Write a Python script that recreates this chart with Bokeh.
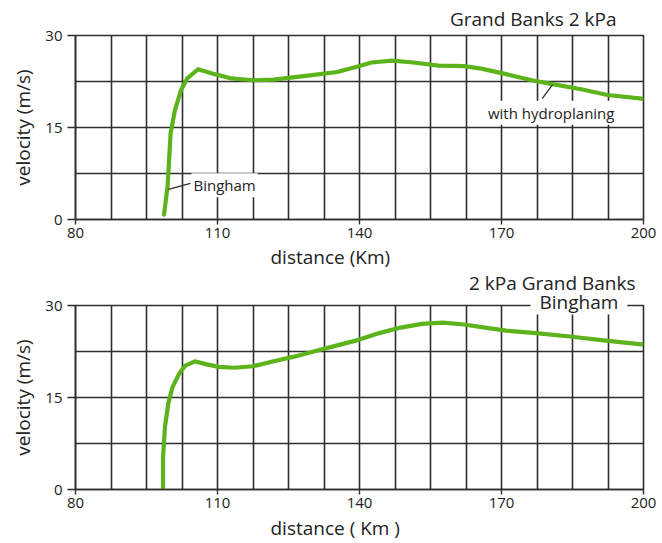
from bokeh.plotting import figure
from bokeh.layouts import column
from bokeh.models import Range1d, FixedTicker, Label, Title
from bokeh.embed import file_html
from bokeh.resources import INLINE

# ---- data ----
distance_top = [98.7, 99.45, 100.1, 101.0, 102.3, 103.6, 105.9, 109.4, 113.0, 117.5,
                121.9, 126.4, 131.7, 135.3, 139.8, 142.5, 146.9, 151.4, 156.7, 162.1,
                165.7, 171.0, 176.4, 179.9, 187.1, 192.4, 199.6]
velocity_top = [0.8, 5.4, 14.1, 17.8, 21.1, 23.0, 24.5, 23.7, 23.0, 22.7,
                22.8, 23.2, 23.7, 24.05, 25.0, 25.6, 25.9, 25.6, 25.1, 25.0,
                24.6, 23.7, 22.7, 22.2, 21.2, 20.3, 19.7]

distance_bottom = [98.5, 98.5, 98.9, 99.6, 100.5, 101.9, 103.2, 105.2, 107.7, 110.3,
                   113.5, 117.5, 121.9, 126.4, 131.7, 135.3, 139.8, 144.2, 148.7, 153.2,
                   157.6, 162.1, 166.5, 171.0, 177.3, 184.4, 191.6, 199.6]
velocity_bottom = [0.0, 5.3, 10.2, 14.0, 16.7, 18.9, 20.2, 20.9, 20.4, 20.0,
                   19.85, 20.1, 20.9, 21.7, 22.8, 23.5, 24.4, 25.5, 26.4, 27.0,
                   27.2, 26.9, 26.4, 25.9, 25.5, 24.95, 24.3, 23.65]

x_ticks = [80, 110, 140, 170, 200]
y_ticks = [0, 15, 30]
x_grid = [80 + 7.5 * i for i in range(17)]
y_grid = [0, 7.5, 15, 22.5, 30]

GREEN = "#5cb31c"
DARK = "#2e2e2e"
TEXT = "#222222"
FONT = "Open Sans"


def make_title(text, size, align, offset, standoff, valign="bottom", bg=None, pad=None):
    t = Title(text=text, align=align, offset=offset, standoff=standoff,
              vertical_align=valign, text_font=FONT, text_font_size=size,
              text_font_style="normal", text_color=TEXT)
    if bg is not None:
        t.background_fill_color = bg
    if pad is not None:
        t.padding = pad
    return t


def make_panel(xs, ys, height, btop, bbottom):
    p = figure(width=662, height=height, output_backend="svg", toolbar_location=None,
               x_range=Range1d(80, 200), y_range=Range1d(0, 30),
               min_border_left=75, min_border_right=19,
               min_border_top=btop, min_border_bottom=bbottom)
    p.background_fill_color = "white"
    p.border_fill_color = "white"
    p.outline_line_color = DARK
    p.outline_line_width = 1.6

    p.xaxis.ticker = FixedTicker(ticks=x_ticks)
    p.yaxis.ticker = FixedTicker(ticks=y_ticks)
    p.xgrid.ticker = FixedTicker(ticks=x_grid)
    p.ygrid.ticker = FixedTicker(ticks=y_grid)
    for g in (p.xgrid, p.ygrid):
        g.grid_line_color = DARK
        g.grid_line_width = 1.6
        g.grid_line_alpha = 1.0
    for ax in (p.xaxis, p.yaxis):
        ax.axis_line_color = DARK
        ax.axis_line_width = 1.6
        ax.major_tick_line_color = DARK
        ax.major_tick_line_width = 1.4
        ax.major_tick_in = 0
        ax.minor_tick_line_color = None
        ax.major_label_text_font = FONT
        ax.major_label_text_font_size = "15px"
        ax.major_label_text_color = TEXT
    p.xaxis.major_tick_out = 5
    p.xaxis.major_label_standoff = 3
    p.yaxis.major_tick_out = 8
    p.yaxis.major_label_standoff = 5

    p.yaxis.axis_label = "velocity (m/s)"
    p.yaxis.axis_label_text_font = FONT
    p.yaxis.axis_label_text_font_size = "19px"
    p.yaxis.axis_label_text_font_style = "normal"
    p.yaxis.axis_label_text_color = TEXT
    p.yaxis.axis_label_standoff = 6

    p.line(xs, ys, line_color=GREEN, line_width=4.2, line_join="round", line_cap="round")
    return p


p1 = make_panel(distance_top, velocity_top, 271, 35, 52)
p2 = make_panel(distance_bottom, velocity_bottom, 272, 34, 54)

# ---- top panel texts ----
p1.add_layout(make_title("Grand Banks 2 kPa", "19px", "right", 27, 7), "above")
p1.add_layout(make_title("distance (Km)", "19px", "left", 195, 3, valign="bottom"), "below")
p1.segment(x0=[99.65], y0=[4.9], x1=[104.3], y1=[5.9], line_color=DARK, line_width=1.3)
p1.add_layout(Label(x=104.5, y=5.6, text="Bingham", text_align="left",
                    text_baseline="middle", text_font=FONT, text_font_size="15px",
                    text_color=TEXT, background_fill_color="white", padding=2))
p1.segment(x0=[178.6], y0=[19.7], x1=[180.8], y1=[22.0], line_color=DARK, line_width=1.3)
p1.add_layout(Label(x=180.5, y=17.4, text="with hydroplaning", text_align="center",
                    text_baseline="middle", text_font=FONT, text_font_size="15px",
                    text_color=TEXT, background_fill_color="white", padding=2))

# ---- bottom panel texts ----
p2.add_layout(make_title("Bingham", "19px", "left", 455, -18, bg="white",
                         pad=dict(x=9, y=0)), "above")
p2.add_layout(make_title("2 kPa Grand Banks", "19px", "right", 8, -4, valign="top"), "above")
p2.add_layout(make_title("distance ( Km )", "19px", "left", 195, 5, valign="bottom"), "below")

layout = column(p1, p2, spacing=0)
open("out.html", "w").write(file_html(layout, INLINE))
